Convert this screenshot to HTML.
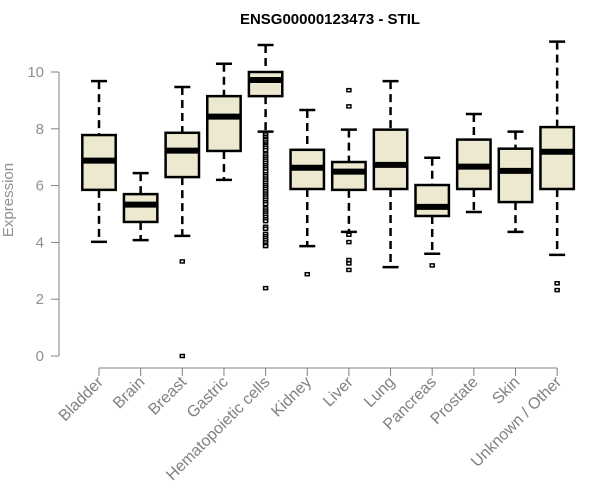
<!DOCTYPE html>
<html><head><meta charset="utf-8"><style>
body{margin:0;background:#fff}
svg{display:block;font-family:"Liberation Sans",Arial,sans-serif}
</style></head><body>
<svg id="chart" width="600" height="500">
<text x="330" y="24" text-anchor="middle" font-weight="bold" font-size="15">ENSG00000123473 - STIL</text>
<text transform="translate(13,200) rotate(-90)" text-anchor="middle" font-size="15" fill="#909090">Expression</text>
<g id="axes"></g><g id="boxes"></g>
</svg>
<script>
const categories=["Bladder","Brain","Breast","Gastric","Hematopoietic cells","Kidney","Liver","Lung","Pancreas","Prostate","Skin","Unknown / Other"];
const whiskerLow=[4.02,4.08,4.23,6.20,7.90,3.87,4.37,3.13,3.60,5.07,4.37,3.56];
const q1=[5.85,4.72,6.30,7.22,9.15,5.88,5.85,5.88,4.93,5.88,5.42,5.88];
const medians=[6.88,5.33,7.23,8.43,9.72,6.63,6.49,6.73,5.25,6.67,6.52,7.19];
const q3=[7.78,5.70,7.86,9.15,10.0,7.26,6.83,7.97,6.02,7.62,7.30,8.06];
const whiskerHigh=[9.68,6.44,9.47,10.29,10.95,8.66,7.97,9.68,6.98,8.52,7.90,11.07];
const outliers=[[],[],[3.33,0.0],[],
[7.85,7.8,7.72,7.65,7.6,7.52,7.45,7.4,7.33,7.25,7.1,7.02,6.95,6.88,6.8,6.72,6.65,6.58,6.5,6.4,6.33,6.25,6.18,6.1,6.02,5.95,5.88,5.8,5.72,5.65,5.58,5.5,5.42,5.35,5.2,5.12,5.05,4.98,4.9,4.82,4.75,4.55,4.48,4.3,4.22,4.15,4.08,4.0,3.92,3.87,2.39],
[2.88],[9.36,8.79,4.27,4.01,3.38,3.26,3.03],[],[3.19],[],[],[2.56,2.32]];
const yTicks=[0,2,4,6,8,10];
const NS="http://www.w3.org/2000/svg";
function yS(v){return 356-v*28.4;}
function xS(i){return 99+i*41.65;}
function mk(t,a,p){const e=document.createElementNS(NS,t);for(const k in a)e.setAttribute(k,a[k]);p.appendChild(e);return e;}
const axes=document.getElementById('axes'),boxes=document.getElementById('boxes');
const ya=mk('line',{x1:59,x2:59,y1:yS(10),y2:yS(0),stroke:'#808080'},axes);

yTicks.forEach(t=>{
 mk('line',{x1:51,x2:59,y1:yS(t),y2:yS(t),stroke:'#808080'},axes);
 const tx=mk('text',{x:44,y:yS(t)+5,'text-anchor':'end','font-size':15,fill:'#909090'},axes);tx.textContent=t;
 
});
const xa=mk('line',{x1:xS(0),x2:xS(categories.length-1),y1:368,y2:368,stroke:'#808080'},axes);

categories.forEach((c,i)=>{
 const x=xS(i);
 mk('line',{x1:x,x2:x,y1:368,y2:376,stroke:'#808080'},axes);
 const tx=mk('text',{transform:`translate(${x+5},${383}) rotate(-45)`,'text-anchor':'end','font-size':16,fill:'#808080'},axes);tx.textContent=c;
 
 const g=mk('g',{},boxes);
 
 const w=16.7;
 mk('line',{x1:x,x2:x,y1:yS(whiskerHigh[i]),y2:yS(q3[i]),stroke:'#000','stroke-width':2.5,'stroke-dasharray':'8,5'},g);
 mk('line',{x1:x,x2:x,y1:yS(q1[i]),y2:yS(whiskerLow[i]),stroke:'#000','stroke-width':2.5,'stroke-dasharray':'8,5'},g);
 mk('line',{x1:x-8,x2:x+8,y1:yS(whiskerHigh[i]),y2:yS(whiskerHigh[i]),stroke:'#000','stroke-width':2.5},g);
 mk('line',{x1:x-8,x2:x+8,y1:yS(whiskerLow[i]),y2:yS(whiskerLow[i]),stroke:'#000','stroke-width':2.5},g);
 mk('rect',{x:x-w,y:yS(q3[i]),width:2*w,height:yS(q1[i])-yS(q3[i]),fill:'#ede8d0',stroke:'#000','stroke-width':2.5},g);
 mk('line',{x1:x-w,x2:x+w,y1:yS(medians[i]),y2:yS(medians[i]),stroke:'#000','stroke-width':6},g);
 outliers[i].forEach(v=>{mk('rect',{x:x-2,y:yS(v)-1.5,width:4,height:3,fill:'#fff',stroke:'#000','stroke-width':1.5},g);});
});
</script>
</body></html>
